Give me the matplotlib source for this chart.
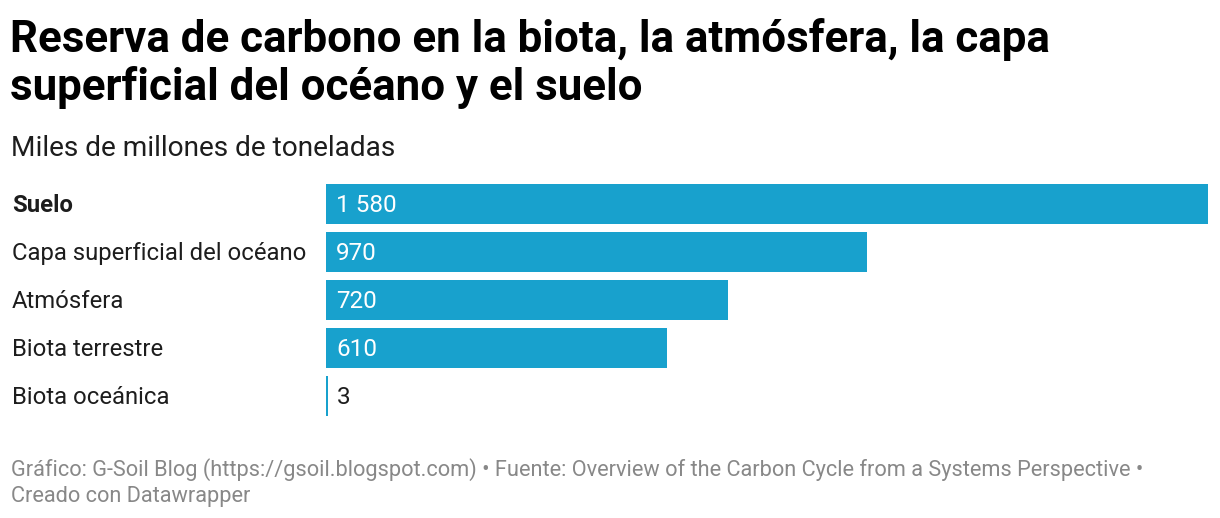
import matplotlib
matplotlib.use("Agg")
import matplotlib.pyplot as plt

categories = ["Suelo", "Capa superficial del océano", "Atmósfera", "Biota terrestre", "Biota oceánica"]
values = [1580, 970, 720, 610, 3]
value_labels = ["1 580", "970", "720", "610", "3"]

title_lines = ["Reserva de carbono en la biota, la atmósfera, la capa",
               "superficial del océano y el suelo"]
subtitle = "Miles de millones de toneladas"
footer_lines = ["Gráfico: G-Soil Blog (https://gsoil.blogspot.com) • Fuente: Overview of the Carbon Cycle from a Systems Perspective •",
                "Creado con Datawrapper"]

W, H = 1220, 518
plt.rcParams['font.family'] = ['Roboto', 'DejaVu Sans']
fig = plt.figure(figsize=(W/100, H/100), dpi=100)

def px(x, y):
    return x / W, 1 - y / H

BAR = "#18a1cd"
TXT = "#1d1d1d"
left, right, top, bottom = 326, 1208, 184, 416
ax = fig.add_axes([left/W, 1 - bottom/H, (right-left)/W, (bottom-top)/H])
n = len(categories)
h = 40/48
ypos = list(range(n))
ax.barh(ypos, values, height=h, color=BAR, linewidth=0)
ax.set_xlim(0, max(values))
ax.set_ylim(n - 1 + h/2, -h/2)
ax.axis('off')

for i, (v, lab) in enumerate(zip(values, value_labels)):
    inside = v > 100
    ax.annotate(lab, (0 if inside else v, i), xytext=(10 if inside else 9, -8),
                textcoords='offset pixels', va='baseline', ha='left',
                fontsize=17.5, color='white' if inside else TXT)

for i, c in enumerate(categories):
    yc = top + 20 + 48*i
    x0, y0 = px(12, yc + 8)
    fig.text(x0, y0, c, va='baseline', ha='left', fontsize=17.2, color=TXT,
             fontweight='bold' if i == 0 else 'normal')

for j, t in enumerate(title_lines):
    x0, y0 = px(10, 52 + 48*j)
    fig.text(x0, y0, t, fontsize=31.6, fontweight='bold', va='baseline', ha='left', color='#000000')

x0, y0 = px(11, 156)
fig.text(x0, y0, subtitle, fontsize=20.2, va='baseline', ha='left', color=TXT)

for j, t in enumerate(footer_lines):
    x0, y0 = px(11, 476 + 26*j)
    fig.text(x0, y0, t, fontsize=15.68, va='baseline', ha='left', color='#888888')

fig.savefig("out.png", dpi=100)
